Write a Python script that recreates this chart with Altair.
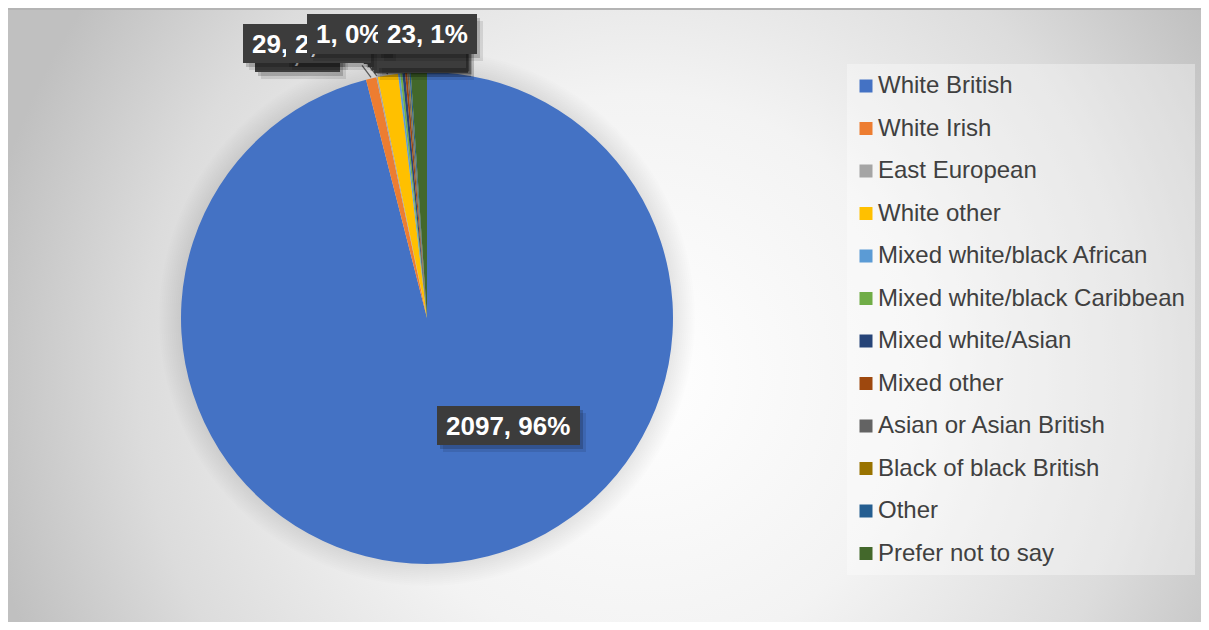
import math
import altair as alt
import pandas as pd

# ---------------- data ----------------
CATEGORIES = [
    "White British", "White Irish", "East European", "White other",
    "Mixed white/black African", "Mixed white/black Caribbean",
    "Mixed white/Asian", "Mixed other", "Asian or Asian British",
    "Black of black British", "Other", "Prefer not to say",
]
COUNTS = [2097, 15, 2, 29, 3, 3, 4, 3, 2, 1, 2, 23]
COLORS = ["#4472C4", "#ED7D31", "#A5A5A5", "#FFC000", "#5B9BD5", "#70AD47",
          "#264478", "#9E480E", "#636363", "#997300", "#255E91", "#43682B"]

# ---------------- layout (pixels in plot area) ----------------
W, H = 1193, 614
CX, CY, R = 419, 310, 246
FONT = "Liberation Sans"

# label boxes: category -> (left, top, right, bottom); drawn in this order
LABEL_BOXES = {
    "White Irish": (247, 25, 332, 64),
    "White other": (235, 16, 334, 55),
    "East European": (278, 16, 363, 55),
    "Black of black British": (299, 6, 382, 46),
    "Prefer not to say": (370, 6, 469, 46),
    "White British": (429, 398, 572, 437),
}
# stacked labels hidden behind the visible ones (boxes only show)
HIDDEN_BOXES = {
    "Mixed white/black African": (352, 12, 452, 52),
    "Mixed white/black Caribbean": (356, 16, 456, 56),
    "Mixed white/Asian": (360, 19, 458, 59),
    "Mixed other": (364, 22, 460, 62),
    "Asian or Asian British": (366, 25, 460, 65),
    "Other": (368, 28, 458, 60),
}

total = sum(COUNTS)
df = pd.DataFrame({"category": CATEGORIES, "count": COUNTS,
                   "order": list(range(len(CATEGORIES)))})

# label texts from data
lab_rows = []
for i, cat in enumerate(LABEL_BOXES):
    k = CATEGORIES.index(cat)
    x1, y1, x2, y2 = LABEL_BOXES[cat]
    lab_rows.append({"category": cat, "i": i,
                     "text": f"{COUNTS[k]}, {round(COUNTS[k] / total * 100)}%",
                     "x1": x1, "x2": x2, "y1": y1, "y2": y2,
                     "tx": x1 + 9, "ty": (y1 + y2) / 2 + 1})
labels = pd.DataFrame(lab_rows)
hid = pd.DataFrame([{"category": c, "x1": b[0], "y1": b[1], "x2": b[2], "y2": b[3]}
                    for c, b in HIDDEN_BOXES.items()])

# leader lines for the small slices at the top
lead_rows = []
cum = 0
for c, v in zip(CATEGORIES, COUNTS):
    mid = (cum + v / 2) / total * 2 * math.pi
    cum += v
    if c in ("White British",):
        continue
    ex = CX + (R + 1) * math.sin(mid)
    ey = CY - (R + 1) * math.cos(mid)
    lead_rows.append({"x1": ex - 9, "y1": ey - 12, "x2": ex, "y2": ey})
leads = pd.DataFrame(lead_rows)

one = pd.DataFrame({"a": [0]})

background = alt.Chart(one).mark_rect(
    color={"gradient": "radial",
           "x1": 0.53, "y1": 0.55, "r1": 0,
           "x2": 0.53, "y2": 0.55, "r2": 0.56,
           "stops": [{"offset": 0, "color": "#ffffff"},
                     {"offset": 0.42, "color": "#f3f3f3"},
                     {"offset": 0.75, "color": "#dcdcdc"},
                     {"offset": 1, "color": "#c0c0c0"}]}
).encode(x=alt.value(0), x2=alt.value(W), y=alt.value(0), y2=alt.value(H))

top_line = alt.Chart(one).mark_rect(color="#b4b4b4").encode(
    x=alt.value(0), x2=alt.value(W), y=alt.value(0), y2=alt.value(2))

halo = [
    alt.Chart(one).mark_arc(theta=0, theta2=2 * math.pi, outerRadius=R + k,
                            color="#000000", opacity=0.007).encode(
        x=alt.value(CX), y=alt.value(CY))
    for k in range(2, 24, 2)
]

legend_panel = alt.Chart(one).mark_rect(color="#ffffff", opacity=0.35).encode(
    x=alt.value(839), x2=alt.value(1187), y=alt.value(56), y2=alt.value(567))

pie = alt.Chart(df).mark_arc(outerRadius=R, stroke=None).encode(
    theta=alt.Theta("count:Q", stack=True),
    order=alt.Order("order:Q"),
    color=alt.Color(
        "category:N",
        scale=alt.Scale(domain=CATEGORIES, range=COLORS),
        sort=CATEGORIES,
        legend=alt.Legend(
            title=None, orient="none", legendX=846, legendY=66,
            symbolType="square", symbolSize=169, symbolStrokeWidth=0,
            labelFontSize=24, labelFont=FONT, labelColor="#404040",
            rowPadding=18.5, labelOffset=0, padding=0, labelLimit=500,
        ),
    ),
    x=alt.value(CX), y=alt.value(CY),
)

lead_lines = alt.Chart(leads).mark_rule(color="#595959", strokeWidth=1.3).encode(
    x=alt.X("x1:Q", scale=None), y=alt.Y("y1:Q", scale=None),
    x2="x2:Q", y2="y2:Q")

def box_layers(data, with_text):
    lays = []
    for i in range(len(data)):
        row = data.iloc[[i]]
        sh1 = alt.Chart(row).transform_calculate(
            sx1="datum.x1+3", sx2="datum.x2+3", sy1="datum.y1+4", sy2="datum.y2+4"
        ).mark_rect(color="#000000", opacity=0.18).encode(
            x=alt.X("sx1:Q", scale=None), x2="sx2:Q",
            y=alt.Y("sy1:Q", scale=None), y2="sy2:Q")
        sh2 = alt.Chart(row).transform_calculate(
            sx1="datum.x1+6", sx2="datum.x2+6", sy1="datum.y1+7", sy2="datum.y2+7"
        ).mark_rect(color="#000000", opacity=0.10).encode(
            x=alt.X("sx1:Q", scale=None), x2="sx2:Q",
            y=alt.Y("sy1:Q", scale=None), y2="sy2:Q")
        box = alt.Chart(row).mark_rect(color="#3c3c3c").encode(
            x=alt.X("x1:Q", scale=None), x2="x2:Q",
            y=alt.Y("y1:Q", scale=None), y2="y2:Q")
        lays += [sh2, sh1, box]
        if with_text:
            txt = alt.Chart(row).mark_text(
                align="left", baseline="middle", font=FONT, fontSize=26,
                fontWeight="bold", color="#ffffff").encode(
                x=alt.X("tx:Q", scale=None), y=alt.Y("ty:Q", scale=None),
                text="text:N")
            lays.append(txt)
    return lays

hidden_layers = box_layers(hid, False)
label_layers = box_layers(labels, True)

chart = alt.layer(
    background, top_line, *halo, legend_panel, pie, lead_lines,
    *label_layers[:4], *hidden_layers, *label_layers[4:],
).properties(
    width=W, height=H,
    autosize=alt.AutoSizeParams(type="none"),
    padding=0,
).configure_view(stroke=None).configure(background="white")

chart.save("out.html", embed_options={"renderer": "svg", "actions": False})
